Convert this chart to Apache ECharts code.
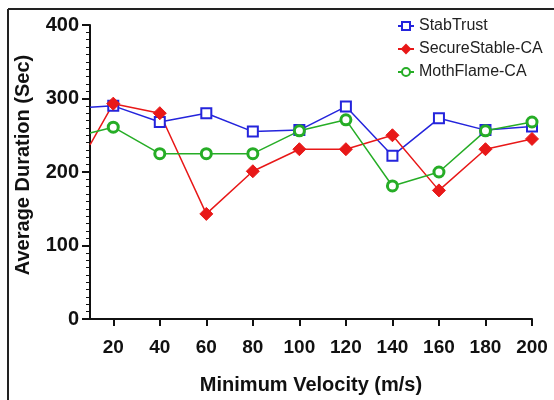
<!DOCTYPE html>
<html><head><meta charset="utf-8">
<script src="https://cdn.jsdelivr.net/npm/echarts@6/dist/echarts.min.js"></script>
<style>html,body{margin:0;padding:0;background:#fff}#c{width:554px;height:400px}</style>
</head><body><div id="c"></div>
<script>
const velocities = [10, 20, 40, 60, 80, 100, 120, 140, 160, 180, 200];
const stabTrust = [288, 290, 268, 280, 255, 257, 289, 222, 273, 257, 262];
const secureStable = [237, 293, 280, 143, 201, 231, 231, 250, 175, 231, 245];
const mothFlame = [253, 261, 225, 225, 225, 256, 271, 181, 200, 256, 268];
const xTicks = [20, 40, 60, 80, 100, 120, 140, 160, 180, 200];
const seriesNames = ['StabTrust', 'SecureStable-CA', 'MothFlame-CA'];
const colors = ['#2424dc', '#e81818', '#26ad26'];

const chart = echarts.init(document.getElementById('c'), null, {renderer: 'canvas'});
function pairs(vals) {
  return velocities.map((v, i) => i === 0 ? {value: [v, vals[i]], symbol: 'none'} : [v, vals[i]]);
}
const font = 'Liberation Sans, Arial, sans-serif';
chart.setOption({
  animation: false,
  backgroundColor: '#fff',
  grid: {left: 90, right: 22, top: 25, bottom: 81, containLabel: false},
  legend: {
    data: seriesNames, orient: 'vertical', left: 392, top: 13, itemGap: 7,
    itemWidth: 16, itemHeight: 10,
    textStyle: {fontFamily: font, fontSize: 16, color: '#222'}
  },
  xAxis: {
    type: 'value', min: 10, max: 200,
    name: 'Minimum Velocity (m/s)', nameLocation: 'middle', nameGap: 56,
    nameTextStyle: {fontFamily: font, fontSize: 20, fontWeight: 'bold', color: '#111'},
    axisLine: {lineStyle: {color: '#111', width: 2}},
    axisTick: {show: true, length: 7, lineStyle: {color: '#111', width: 2}, customValues: xTicks},
    axisLabel: {fontFamily: font, fontSize: 19, fontWeight: 'bold', color: '#111', margin: 19, customValues: xTicks},
    splitLine: {show: false}
  },
  yAxis: {
    type: 'value', min: 0, max: 400, interval: 100,
    name: 'Average Duration (Sec)', nameLocation: 'middle', nameGap: 57,
    nameTextStyle: {fontFamily: font, fontSize: 20, fontWeight: 'bold', color: '#111', padding: [0, 0, 0, 14]},
    axisLine: {show: true, lineStyle: {color: '#111', width: 2}},
    axisTick: {show: true, length: 8, lineStyle: {color: '#111', width: 2}},
    minorTick: {show: true, splitNumber: 10, length: 4, lineStyle: {color: '#111', width: 1}},
    axisLabel: {fontFamily: font, fontSize: 20, fontWeight: 'bold', color: '#111', margin: 11},
    splitLine: {show: false}
  },
  graphic: [
    {type: 'line', shape: {x1: 8, y1: 9, x2: 554, y2: 9}, style: {stroke: '#222', lineWidth: 2}},
    {type: 'line', shape: {x1: 8, y1: 9, x2: 8, y2: 400}, style: {stroke: '#222', lineWidth: 2}}
  ],
  series: [
    {name: seriesNames[0], type: 'line', data: pairs(stabTrust), color: colors[0],
     symbol: 'rect', symbolSize: 10, lineStyle: {width: 1.5, color: colors[0]},
     itemStyle: {color: '#fff', borderColor: colors[0], borderWidth: 2}},
    {name: seriesNames[1], type: 'line', data: pairs(secureStable), color: colors[1],
     symbol: 'diamond', symbolSize: 13, lineStyle: {width: 1.5, color: colors[1]},
     itemStyle: {color: colors[1], borderColor: colors[1], borderWidth: 1}},
    {name: seriesNames[2], type: 'line', data: pairs(mothFlame), color: colors[2],
     symbol: 'circle', symbolSize: 10, lineStyle: {width: 1.5, color: colors[2]},
     itemStyle: {color: '#fff', borderColor: colors[2], borderWidth: 3}}
  ]
});
</script></body></html>
